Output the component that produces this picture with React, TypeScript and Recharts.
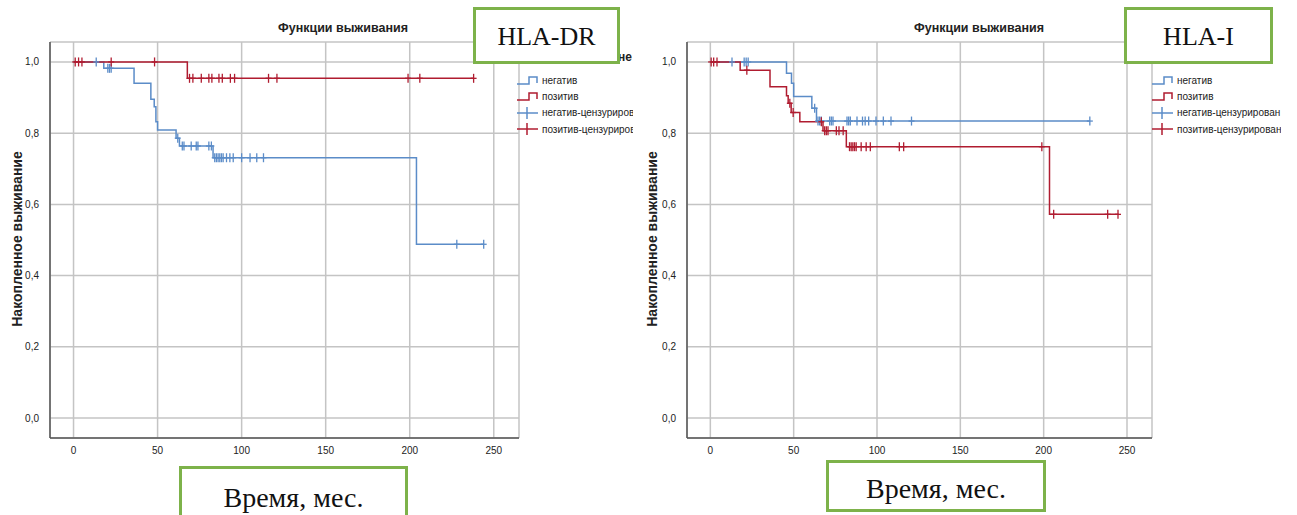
import React from 'react';
import { ComposedChart, Line, Scatter, XAxis, YAxis, CartesianGrid } from 'recharts';

const xTicks = [0, 50, 100, 150, 200, 250];
const yTicks = [0, 0.2, 0.4, 0.6, 0.8, 1.0];
const legendLabels = ['негатив', 'позитив', 'негатив-цензурирован', 'позитив-цензурирован'];

// HLA-DR: step points (time, survival) and censored times
const drNegTimes = [0, 18, 36, 46, 48, 49, 50, 61, 63, 83, 204, 244];
const drNegSurv = [1, 0.982, 0.94, 0.895, 0.874, 0.832, 0.809, 0.786, 0.764, 0.731, 0.488, 0.488];
const drNegCensored = [13.5, 20.4, 21.4, 22.4, 62, 64.7, 65.7, 70, 73, 74, 80.5, 82, 84, 85, 86, 87, 88, 89, 91, 93, 95, 100, 105, 109, 113, 228, 244];
const drPosTimes = [0, 67.7, 238];
const drPosSurv = [1, 0.954, 0.954];
const drPosCensored = [1, 3, 5, 22.4, 48.2, 69, 71, 76, 80.5, 82.3, 86.5, 88.5, 93.3, 95.8, 116, 121, 199, 206, 238];

// HLA-I
const iNegTimes = [0, 45.7, 48.7, 50, 60.9, 63.7, 227.7];
const iNegSurv = [1, 0.968, 0.94, 0.903, 0.87, 0.834, 0.834];
const iNegCensored = [13, 20.3, 21.5, 22.7, 62.6, 64.6, 65.6, 66.6, 71.6, 72.6, 73.6, 82, 83, 84, 88, 91.3, 92.9, 95, 99.4, 103.8, 108.4, 120.7, 227.7];
const iPosTimes = [0, 17.9, 35.8, 45.7, 46.7, 48.5, 53.7, 67.6, 81.6, 203.5, 245];
const iPosSurv = [1, 0.977, 0.93, 0.905, 0.884, 0.858, 0.832, 0.807, 0.762, 0.572, 0.572];
const iPosCensored = [0.5, 2, 4, 21.9, 47.7, 49.7, 66.6, 68.6, 69.6, 70.6, 75.6, 77.2, 79.7, 83.5, 84.5, 85.5, 86.5, 87.5, 90.5, 93.5, 96, 113.4, 116, 198.9, 206, 238.4, 244.6];

const BLUE = '#5b8cc8';
const RED = '#b01c30';
const GREEN = '#7db24a';
const sans = "'Liberation Sans', Arial, sans-serif";
const serif = "'Liberation Serif', 'Times New Roman', serif";

const toSteps = (times: number[], surv: number[]) => times.map((t, i) => ({ t, s: surv[i] }));

const survAt = (times: number[], surv: number[], t: number) => {
  let s = surv[0];
  for (let i = 0; i < times.length; i++) if (times[i] <= t) s = surv[i];
  return s;
};

const toMarks = (censored: number[], times: number[], surv: number[]) =>
  censored.map(t => ({ t, s: survAt(times, surv, t) }));

const CensorMark = (props: any) => {
  const { cx, cy, color } = props;
  return (
    <g>
      <line x1={cx} y1={cy - 4.5} x2={cx} y2={cy + 4.5} stroke={color} strokeWidth={1.3} />
      <line x1={cx - 3} y1={cy} x2={cx + 3} y2={cy} stroke={color} strokeWidth={1.3} />
    </g>
  );
};

interface PanelProps {
  negTimes: number[];
  negSurv: number[];
  negCensored: number[];
  posTimes: number[];
  posSurv: number[];
  posCensored: number[];
  width: number;
  marginLeft: number;
  marginRight: number;
}

function SurvivalChart(p: PanelProps) {
  return (
    <ComposedChart
      width={p.width}
      height={515}
      margin={{ top: 42, right: p.marginRight, bottom: 53, left: p.marginLeft }}
    >
      <CartesianGrid stroke="#c4c4c4" strokeWidth={1.5} />
      <XAxis
        dataKey="t"
        type="number"
        domain={[-14, 265]}
        ticks={xTicks}
        allowDataOverflow
        height={24}
        tickLine={false}
        tickMargin={3}
        axisLine={{ stroke: '#555', strokeWidth: 1.5 }}
        tick={{ fontSize: 10, fill: '#222', fontFamily: sans }}
      />
      <YAxis
        dataKey="s"
        type="number"
        domain={[-0.056, 1.056]}
        ticks={yTicks}
        allowDataOverflow
        width={30}
        tickLine={false}
        tickMargin={5}
        tickFormatter={(v: number) => v.toFixed(1).replace('.', ',')}
        axisLine={{ stroke: '#555', strokeWidth: 1.5 }}
        tick={{ fontSize: 10, fill: '#222', fontFamily: sans }}
      />
      <Line data={toSteps(p.negTimes, p.negSurv)} dataKey="s" type="stepAfter" stroke={BLUE} strokeWidth={1.5} dot={false} isAnimationActive={false} />
      <Line data={toSteps(p.posTimes, p.posSurv)} dataKey="s" type="stepAfter" stroke={RED} strokeWidth={1.5} dot={false} isAnimationActive={false} />
      <Scatter data={toMarks(p.negCensored, p.negTimes, p.negSurv)} dataKey="s" isAnimationActive={false} shape={(sp: any) => <CensorMark {...sp} color={BLUE} />} />
      <Scatter data={toMarks(p.posCensored, p.posTimes, p.posSurv)} dataKey="s" isAnimationActive={false} shape={(sp: any) => <CensorMark {...sp} color={RED} />} />
    </ComposedChart>
  );
}

function LegendBlock({ left, top }: { left: number; top: number }) {
  const colors = [BLUE, RED, BLUE, RED];
  return (
    <div style={{ position: 'absolute', left, top, fontFamily: sans, fontSize: 10, color: '#222' }}>
      {legendLabels.map((label, i) => (
        <div key={label} style={{ display: 'flex', alignItems: 'center', height: 16.3, whiteSpace: 'nowrap' }}>
          <svg width={22} height={12} style={{ marginRight: 3 }}>
            {i < 2 ? (
              <path d="M0 10 H12 V3 H20 V9" fill="none" stroke={colors[i]} strokeWidth={1.5} />
            ) : (
              <g stroke={colors[i]} strokeWidth={1.5}>
                <line x1={0} y1={6} x2={21} y2={6} />
                <line x1={10} y1={0} x2={10} y2={12} />
              </g>
            )}
          </svg>
          <span>{label}</span>
        </div>
      ))}
    </div>
  );
}

function Panel(props: PanelProps & { left: number; yLabelX: number; titleX: number; legendX: number }) {
  return (
    <div style={{ position: 'absolute', left: props.left, top: 0, width: props.width, height: 515, overflow: 'hidden' }}>
      <div style={{ position: 'absolute', left: 0, top: 0 }}>
        <SurvivalChart {...props} />
      </div>
      <div
        style={{
          position: 'absolute', left: props.titleX - 100, top: 21, width: 200, textAlign: 'center',
          fontFamily: sans, fontSize: 12.5, fontWeight: 'bold', color: '#222',
        }}
      >
        Функции выживания
      </div>
      <div
        style={{
          position: 'absolute', left: props.yLabelX - 120, top: 231, width: 240, textAlign: 'center',
          transform: 'rotate(-90deg)', fontFamily: sans, fontSize: 14, fontWeight: 'bold', color: '#222',
        }}
      >
        Накопленное выживание
      </div>
      <LegendBlock left={props.legendX} top={72} />
    </div>
  );
}

function GreenBox({ left, top, width, height, text, size, pt }: any) {
  return (
    <div
      style={{
        position: 'absolute', left, top, width, height, boxSizing: 'border-box',
        border: `3px solid ${GREEN}`, background: '#fff', fontFamily: serif, fontSize: size,
        color: '#111', textAlign: 'center', paddingTop: pt, lineHeight: 1,
      }}
    >
      {text}
    </div>
  );
}

export default function App() {
  return (
    <div style={{ position: 'absolute', left: 0, top: 0, width: 1297, height: 515, background: '#fff', overflow: 'hidden' }}>
      <Panel
        left={0}
        width={633}
        marginLeft={20}
        marginRight={114}
        negTimes={drNegTimes}
        negSurv={drNegSurv}
        negCensored={drNegCensored}
        posTimes={drPosTimes}
        posSurv={drPosSurv}
        posCensored={drPosCensored}
        yLabelX={17}
        titleX={343}
        legendX={517}
      />
      <div style={{ position: 'absolute', left: 618, top: 50, fontFamily: sans, fontSize: 12, fontWeight: 'bold', color: '#222' }}>не</div>
      <Panel
        left={636}
        width={645}
        marginLeft={21}
        marginRight={129}
        negTimes={iNegTimes}
        negSurv={iNegSurv}
        negCensored={iNegCensored}
        posTimes={iPosTimes}
        posSurv={iPosSurv}
        posCensored={iPosCensored}
        yLabelX={16}
        titleX={343}
        legendX={516}
      />
      <GreenBox left={473} top={7} width={147} height={57} text="HLA-DR" size={26} pt={14} />
      <GreenBox left={1124} top={7} width={149} height={57} text="HLA-I" size={26} pt={14} />
      <GreenBox left={179} top={466} width={229} height={60} text="Время, мес." size={28} pt={15} />
      <GreenBox left={826} top={460} width={220} height={52} text="Время, мес." size={28} pt={12} />
    </div>
  );
}
